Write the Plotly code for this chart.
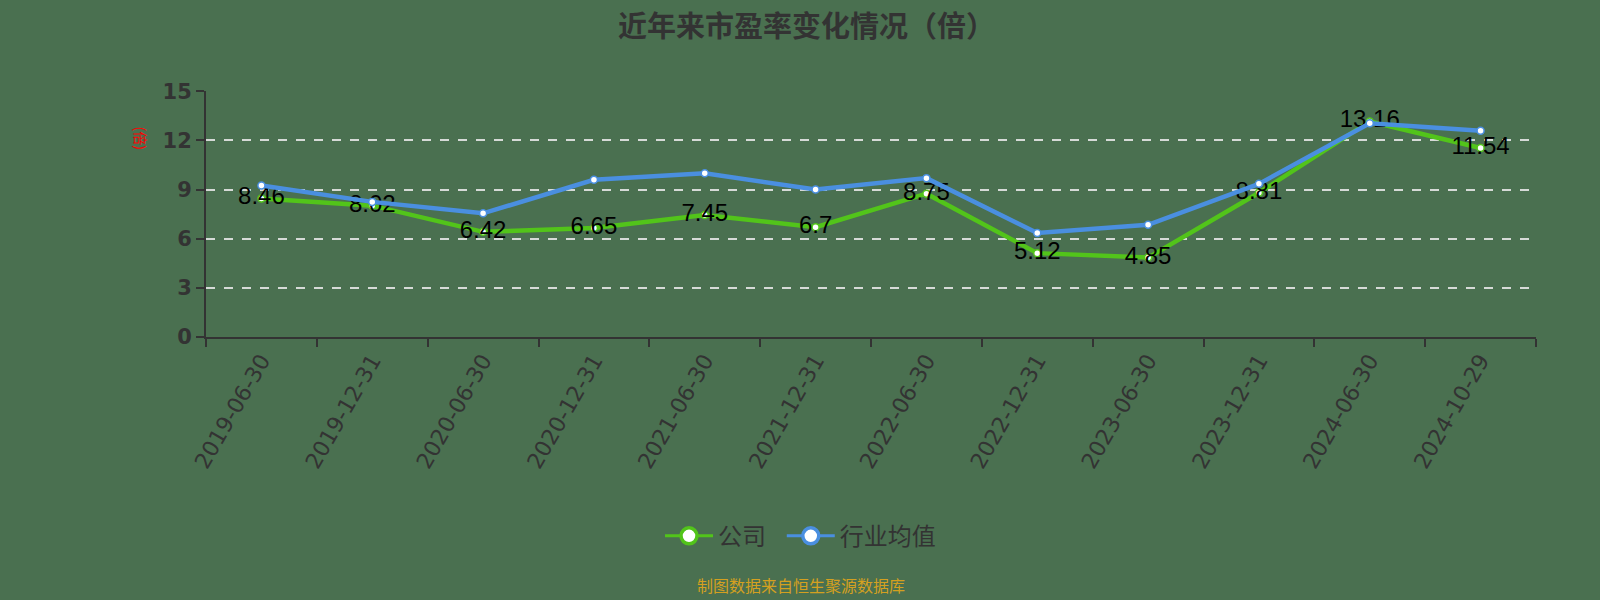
import plotly.graph_objects as go

# 报告期
dates = ['2019-06-30', '2019-12-31', '2020-06-30', '2020-12-31', '2021-06-30', '2021-12-31',
         '2022-06-30', '2022-12-31', '2023-06-30', '2023-12-31', '2024-06-30', '2024-10-29']
# 公司市盈率
company_pe = [8.46, 8.02, 6.42, 6.65, 7.45, 6.7, 8.75, 5.12, 4.85, 8.81, 13.16, 11.54]
# 行业均值
industry_pe = [9.25, 8.25, 7.55, 9.6, 10.0, 9.0, 9.7, 6.35, 6.85, 9.35, 13.05, 12.6]
y_ticks = [0, 3, 6, 9, 12, 15]

GREEN = '#52c41a'
BLUE = '#4a8fe0'
BG = '#4a7050'
AXIS = '#333333'

fig = go.Figure()

# actual lines (small markers)
fig.add_trace(go.Scatter(
    x=dates, y=company_pe, mode='lines+markers+text', name='公司',
    line=dict(color=GREEN, width=4.5),
    marker=dict(size=7, color='white', line=dict(color=GREEN, width=1.5)),
    text=[str(v) for v in company_pe], textposition='middle center',
    textfont=dict(size=24, color='black', family='Liberation Sans, Arial'),
    showlegend=False, cliponaxis=False))
fig.add_trace(go.Scatter(
    x=dates, y=industry_pe, mode='lines+markers', name='行业均值',
    line=dict(color=BLUE, width=4.5),
    marker=dict(size=7, color='white', line=dict(color=BLUE, width=1.5)),
    showlegend=False))

# legend-only entries with bigger symbols
for name, color in [('公司\u00a0\u00a0', GREEN), ('行业均值', BLUE)]:
    fig.add_trace(go.Scatter(
        x=[None], y=[None], mode='lines+markers', name=name,
        line=dict(color=color, width=3),
        marker=dict(size=20, color='white', line=dict(color=color, width=3.5))))

fig.update_layout(
    width=1600, height=600,
    paper_bgcolor=BG, plot_bgcolor=BG,
    margin=dict(l=206, r=64, t=91, b=263),
    font=dict(family='Noto Sans CJK SC, sans-serif', color=AXIS),
    title=dict(text='<b>近年来市盈率变化情况（倍）</b>', x=0.504, xanchor='center',
               y=0.955, yanchor='middle', font=dict(size=29, color=AXIS)),
    showlegend=True,
    legend=dict(orientation='h', x=0.447, xanchor='center', y=-0.81, yanchor='middle',
                font=dict(size=24, color=AXIS), bgcolor='rgba(0,0,0,0)', itemwidth=48),
    xaxis=dict(
        type='category', range=[-0.5, len(dates) - 0.5],
        tickson='boundaries', ticks='outside', ticklen=8, tickcolor=AXIS, tickwidth=2,
        showline=True, linecolor=AXIS, linewidth=2, showgrid=False,
        tickangle=-60, tickfont=dict(size=22, color=AXIS, family='DejaVu Sans')),
    yaxis=dict(
        range=[0, 15.02], tickvals=y_ticks, ticks='outside', ticklen=8, tickcolor=AXIS, tickwidth=2,
        showline=True, linecolor=AXIS, linewidth=2,
        showgrid=True, gridcolor='rgba(230,230,230,0.9)', griddash='dash', gridwidth=1.5,
        zeroline=False, tickfont=dict(size=21, color=AXIS, family='DejaVu Sans', weight='bold')),
    annotations=[
        dict(text='(倍)', xref='paper', yref='paper', x=-0.058, y=0.862, showarrow=False,
             textangle=90, font=dict(size=14, color='red')),
        dict(text='制图数据来自恒生聚源数据库', xref='paper', yref='paper', x=0.447, y=-1.01,
             xanchor='center', yanchor='middle', showarrow=False,
             font=dict(size=16, color='#d4a020')),
    ],
)

fig.write_html("out.html", config={'displayModeBar': False},
               post_script="document.body.style.margin='0';")
